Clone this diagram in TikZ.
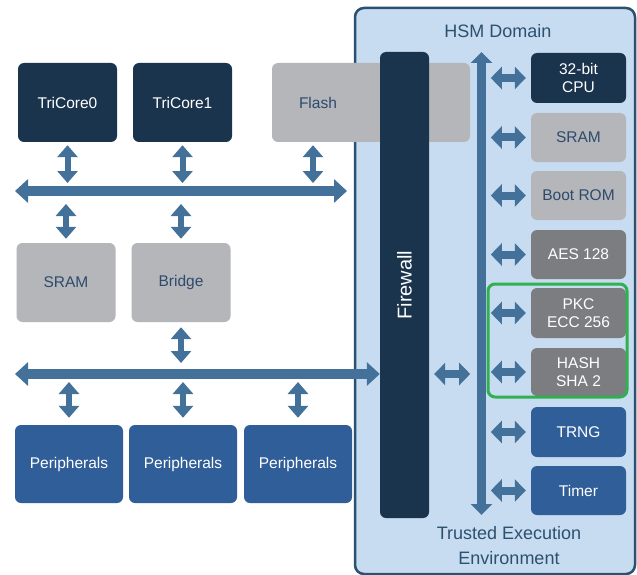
\documentclass[tikz,border=0pt]{standalone}
\usepackage{fontspec}
\setmainfont{Liberation Sans}
\usetikzlibrary{arrows.meta,calc}
\definecolor{navy}{HTML}{1B344D}
\definecolor{lgray}{HTML}{B4B6B9}
\definecolor{dgray}{HTML}{7B7D80}
\definecolor{pblue}{HTML}{2F5E98}
\definecolor{arrowc}{HTML}{44719A}
\definecolor{hsmfill}{HTML}{C7DCF0}
\definecolor{hsmborder}{HTML}{2C5070}
\definecolor{txtblue}{HTML}{2E4A6E}
\definecolor{grn}{HTML}{30B050}
\begin{document}
\begin{tikzpicture}[x=1pt,y=-1pt,
  box/.style={rectangle, rounded corners=6pt, inner sep=0pt, minimum width=99pt, minimum height=79pt, font=\fontsize{15.5}{18}\selectfont, align=center},
  darkbox/.style={box, fill=navy, text=white},
  lightbox/.style={box, fill=lgray, text=txtblue},
  midbox/.style={box, fill=dgray, text=white},
  bluebox/.style={box, fill=pblue, text=white},
  hsmbox/.style={minimum width=95pt, minimum height=49pt},
  dbl/.style={draw=arrowc, line width=6pt, {Triangle[width=20pt,length=12pt]}-{Triangle[width=20pt,length=12pt]}},
  hdbl/.style={draw=arrowc, line width=8pt, {Triangle[width=22pt,length=11pt]}-{Triangle[width=22pt,length=11pt]}},
  bus/.style={draw=arrowc, line width=10pt, {Triangle[width=23pt,length=13pt]}-{Triangle[width=23pt,length=13pt]}},
  ibus/.style={draw=arrowc, line width=9pt, {Triangle[width=21pt,length=11pt]}-{Triangle[width=21pt,length=11pt]}},
  title/.style={font=\fontsize{18}{25}\selectfont, text=hsmborder, align=center}
]
\useasboundingbox (0,0) rectangle (637,575);
\fill[white] (0,0) rectangle (637,575);

% HSM domain
\node[draw=hsmborder, fill=hsmfill, line width=2.5pt, rounded corners=9pt, minimum width=280pt, minimum height=566pt, inner sep=0pt] (hsm) at (495,291) {};
\node[title] (hsmtitle) at (498,31) {HSM Domain};
\node[title] (tee) at (509,546) {Trusted Execution\\Environment};

% left side nodes
\node[lightbox, minimum width=198pt, text width=144pt, align=left, inner xsep=27pt] (flash) at (371,102.5) {Flash};
\node[darkbox, rotate=90, minimum width=466pt, minimum height=49pt, font=\fontsize{20}{24}\selectfont] (fw) at (404.5,285) {Firewall};

\node[darkbox] (tc0) at (67.5,102.5) {TriCore0};
\node[darkbox] (tc1) at (182.5,102.5) {TriCore1};
\node[lightbox] (sram) at (66,282.5) {SRAM};
\node[lightbox] (bridge) at (181,282.5) {Bridge};
\node[bluebox, minimum width=108pt, minimum height=78pt] (p1) at (69,464) {Peripherals};
\node[bluebox, minimum width=108pt, minimum height=78pt] (p2) at (183,464) {Peripherals};
\node[bluebox, minimum width=108pt, minimum height=78pt] (p3) at (298,464) {Peripherals};

% buses
\coordinate (bus1L) at (15,191);
\coordinate (bus1R) at (347,191);
\coordinate (bus2L) at (15,374);
\coordinate (bus2R) at (fw.north |- bus2L);
\draw[bus] (bus1L) -- (bus1R);
\draw[bus] (bus2L) -- (bus2R);

\draw[dbl] ($(tc0.south)+(0,3)$) -- ($(tc0.south|-bus1L)+(0,-8)$);
\draw[dbl] ($(tc1.south)+(0,3)$) -- ($(tc1.south|-bus1L)+(0,-8)$);
\draw[dbl] ($(flash.south)+(-58,3)$) -- ($(flash.south|-bus1L)+(-58,-8)$);
\draw[dbl] ($(sram.north|-bus1L)+(0,13)$) -- ($(sram.north)+(0,-4)$);
\draw[dbl] ($(bridge.north|-bus1L)+(0,13)$) -- ($(bridge.north)+(0,-4)$);
\draw[dbl] ($(bridge.south)+(0,5)$) -- ($(bridge.south|-bus2L)+(0,-11)$);
\draw[dbl] ($(p1.north|-bus2L)+(0,8)$) -- ($(p1.north)+(0,-7)$);
\draw[dbl] ($(p2.north|-bus2L)+(0,8)$) -- ($(p2.north)+(0,-7)$);
\draw[dbl] ($(p3.north|-bus2L)+(0,8)$) -- ($(p3.north)+(0,-7)$);

% HSM internals
\coordinate (ibT) at (481.5,52);
\coordinate (ibB) at (481.5,515);
\draw[ibus] (ibT) -- (ibB);

\node[darkbox, hsmbox, minimum height=50pt] (cpu) at (578.5,78) {32-bit\\CPU};
\node[lightbox, hsmbox] (sram2) at (578.5,137.5) {SRAM};
\node[lightbox, hsmbox] (brom) at (578.5,195.5) {Boot ROM};
\node[midbox, hsmbox] (aes) at (578.5,254.5) {AES 128};
\node[midbox, hsmbox, minimum height=50pt] (pkc) at (578.5,313) {PKC\\ECC 256};
\node[midbox, hsmbox, minimum height=48pt] (hash) at (578.5,372) {HASH\\SHA 2};
\node[bluebox, hsmbox, minimum height=50pt] (trng) at (578.5,432) {TRNG};
\node[bluebox, hsmbox] (timer) at (578.5,490.5) {Timer};

\foreach \n in {cpu,sram2,brom,aes,pkc,hash,trng,timer}
  \draw[hdbl] ($(\n.west)+(-40,0)$) -- ($(\n.west)+(-5,0)$);

\draw[hdbl] ($(fw.south|-bus2L)+(5,0)$) -- ($(fw.south|-bus2L)+(41,0)$);

\node[draw=grn, line width=3pt, rounded corners=7pt, minimum width=139pt, minimum height=113pt, inner sep=0pt] (grp) at (557.5,340.5) {};
\end{tikzpicture}
\end{document}
